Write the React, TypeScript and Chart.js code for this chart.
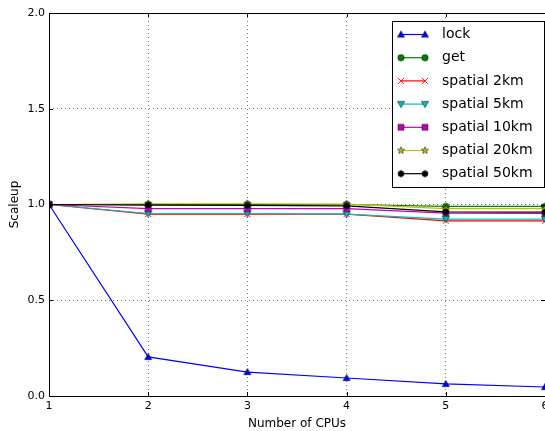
import React, { useEffect, useRef } from "react";
import { Chart, registerables } from "chart.js";

Chart.register(...registerables);

const cpus = [1, 2, 3, 4, 5, 6];
const yTicks = [0, 0.5, 1.0, 1.5, 2.0];
const seriesNames = ["lock", "get", "spatial 2km", "spatial 5km", "spatial 10km", "spatial 20km", "spatial 50km"];
const lockVals = [1.0, 0.204, 0.125, 0.094, 0.063, 0.047];
const getVals = [1.0, 1.0, 1.0, 1.0, 0.99, 0.99];
const sp2Vals = [1.0, 0.95, 0.95, 0.95, 0.915, 0.915];
const sp5Vals = [1.0, 0.953, 0.953, 0.95, 0.924, 0.924];
const sp10Vals = [1.0, 0.978, 0.978, 0.978, 0.955, 0.953];
const sp20Vals = [1.0, 1.004, 1.004, 1.002, 0.978, 0.978];
const sp50Vals = [1.0, 0.997, 0.995, 0.993, 0.962, 0.96];
const allVals = [lockVals, getVals, sp2Vals, sp5Vals, sp10Vals, sp20Vals, sp50Vals];
const colors = ["#0000ff", "#008000", "#ff0000", "#00bfbf", "#bf00bf", "#bfbf00", "#000000"];
const shapes = ["triUp", "circle", "x", "triDown", "square", "star", "hex"];

const FONT = "'DejaVu Sans', sans-serif";
const CANVAS_W = 560;

function makeMarker(shape: string, color: string): HTMLCanvasElement {
  const S = 12;
  const c = document.createElement("canvas");
  c.width = S;
  c.height = S;
  const g = c.getContext("2d")!;
  const cx = S / 2, cy = S / 2;
  g.fillStyle = color;
  g.strokeStyle = "#000";
  g.lineWidth = 0.5;
  g.beginPath();
  if (shape === "triUp") {
    const r = 3.6;
    g.moveTo(cx, cy - r);
    g.lineTo(cx + r, cy + r * 0.75);
    g.lineTo(cx - r, cy + r * 0.75);
    g.closePath();
  } else if (shape === "triDown") {
    const r = 3.6;
    g.moveTo(cx, cy + r);
    g.lineTo(cx + r, cy - r * 0.75);
    g.lineTo(cx - r, cy - r * 0.75);
    g.closePath();
  } else if (shape === "circle") {
    g.arc(cx, cy, 3.2, 0, Math.PI * 2);
  } else if (shape === "square") {
    g.rect(cx - 3, cy - 3, 6, 6);
  } else if (shape === "star") {
    const ro = 3.8, ri = 1.6;
    for (let i = 0; i < 10; i++) {
      const r = i % 2 === 0 ? ro : ri;
      const a = -Math.PI / 2 + (i * Math.PI) / 5;
      const px = cx + r * Math.cos(a), py = cy + r * Math.sin(a);
      if (i === 0) g.moveTo(px, py); else g.lineTo(px, py);
    }
    g.closePath();
  } else if (shape === "hex") {
    const r = 3.3;
    for (let i = 0; i < 6; i++) {
      const a = -Math.PI / 2 + (i * Math.PI) / 3;
      const px = cx + r * Math.cos(a), py = cy + r * Math.sin(a);
      if (i === 0) g.moveTo(px, py); else g.lineTo(px, py);
    }
    g.closePath();
  }
  if (shape === "x") {
    g.strokeStyle = color;
    g.lineWidth = 0.9;
    const r = 3;
    g.moveTo(cx - r, cy - r);
    g.lineTo(cx + r, cy + r);
    g.moveTo(cx + r, cy - r);
    g.lineTo(cx - r, cy + r);
    g.stroke();
  } else {
    g.fill();
    g.stroke();
  }
  return c;
}

export default function App() {
  const ref = useRef<HTMLCanvasElement | null>(null);
  useEffect(() => {
    const markers = shapes.map((s, i) => makeMarker(s, colors[i]));
    const datasets = seriesNames.map((name, i) => ({
      label: name,
      data: cpus.map((x, j) => ({ x, y: allVals[i][j] })),
      borderColor: colors[i],
      backgroundColor: colors[i],
      borderWidth: 1.2,
      pointStyle: markers[i] as any,
      pointRadius: 4,
      order: seriesNames.length - i,
      tension: 0,
    }));

    const framePlugin = {
      id: "frame",
      afterDraw(chart: any) {
        const { ctx, chartArea: a, scales } = chart;
        ctx.save();
        ctx.strokeStyle = "#000";
        ctx.lineWidth = 1;
        ctx.strokeRect(Math.round(a.left) + 0.5, Math.round(a.top) + 0.5, Math.round(a.right - a.left), Math.round(a.bottom - a.top));
        ctx.beginPath();
        for (const v of cpus) {
          const px = Math.round(scales.x.getPixelForValue(v)) + 0.5;
          ctx.moveTo(px, a.bottom); ctx.lineTo(px, a.bottom - 4);
          ctx.moveTo(px, a.top); ctx.lineTo(px, a.top + 4);
        }
        for (const v of yTicks) {
          const py = Math.round(scales.y.getPixelForValue(v)) + 0.5;
          ctx.moveTo(a.left, py); ctx.lineTo(a.left + 4, py);
          ctx.moveTo(a.right, py); ctx.lineTo(a.right - 4, py);
        }
        ctx.stroke();
        // legend
        const lx = 392, ly = 21, lw = 152, lh = 166;
        ctx.fillStyle = "#fff";
        ctx.fillRect(lx, ly, lw, lh);
        ctx.strokeStyle = "#000";
        ctx.strokeRect(lx + 0.5, ly + 0.5, lw, lh);
        ctx.font = "14px " + FONT;
        ctx.textBaseline = "middle";
        ctx.textAlign = "left";
        seriesNames.forEach((name, i) => {
          const y = 34.5 + i * 23.2;
          ctx.strokeStyle = colors[i];
          ctx.lineWidth = 1.2;
          ctx.beginPath();
          ctx.moveTo(401, y);
          ctx.lineTo(425, y);
          ctx.stroke();
          const m = markers[i];
          ctx.drawImage(m, 401 - m.width / 2, y - m.height / 2);
          ctx.drawImage(m, 425 - m.width / 2, y - m.height / 2);
          ctx.fillStyle = "#000";
          ctx.fillText(name, 442, y);
        });
        ctx.restore();
      },
    };

    const chart = new Chart(ref.current!, {
      type: "line",
      data: { datasets: datasets as any },
      options: {
        animation: false,
        responsive: false,
        layout: { padding: { top: 13, right: 15, left: 0, bottom: 0 } },
        plugins: { legend: { display: false }, tooltip: { enabled: false } },
        scales: {
          x: {
            type: "linear",
            min: 1,
            max: 6,
            border: { display: false, dash: [1, 3] },
            grid: { color: "#777", lineWidth: 1, drawTicks: false },
            ticks: {
              stepSize: 1,
              padding: 4,
              color: "#000",
              font: { family: FONT, size: 11 },
            },
            title: {
              display: true,
              text: "Number of CPUs",
              color: "#000",
              font: { family: FONT, size: 12 },
              padding: { top: 2, bottom: 0 },
            },
            afterFit(scale: any) {
              scale.height = 35;
              scale.paddingLeft = 0;
              scale.paddingRight = 0;
            },
          } as any,
          y: {
            type: "linear",
            min: 0,
            max: 2,
            border: { display: false, dash: [1, 3] },
            grid: { color: "#777", lineWidth: 1, drawTicks: false },
            ticks: {
              stepSize: 0.5,
              padding: 4,
              color: "#000",
              font: { family: FONT, size: 11 },
              callback: (v: any) => Number(v).toFixed(1),
            },
            title: {
              display: true,
              text: "Scaleup",
              color: "#000",
              font: { family: FONT, size: 12 },
              padding: { top: 8, bottom: 0 },
            },
            afterFit(scale: any) {
              scale.width = 49;
              scale.paddingTop = 0;
              scale.paddingBottom = 0;
            },
          } as any,
        },
      },
      plugins: [framePlugin],
    });
    return () => chart.destroy();
  }, []);

  return (
    <div style={{ position: "absolute", left: 0, top: 0, width: 545, height: 431, overflow: "hidden", background: "#fff" }}>
      <canvas ref={ref} width={CANVAS_W} height={431} style={{ width: CANVAS_W, height: 431, display: "block" }} />
    </div>
  );
}
